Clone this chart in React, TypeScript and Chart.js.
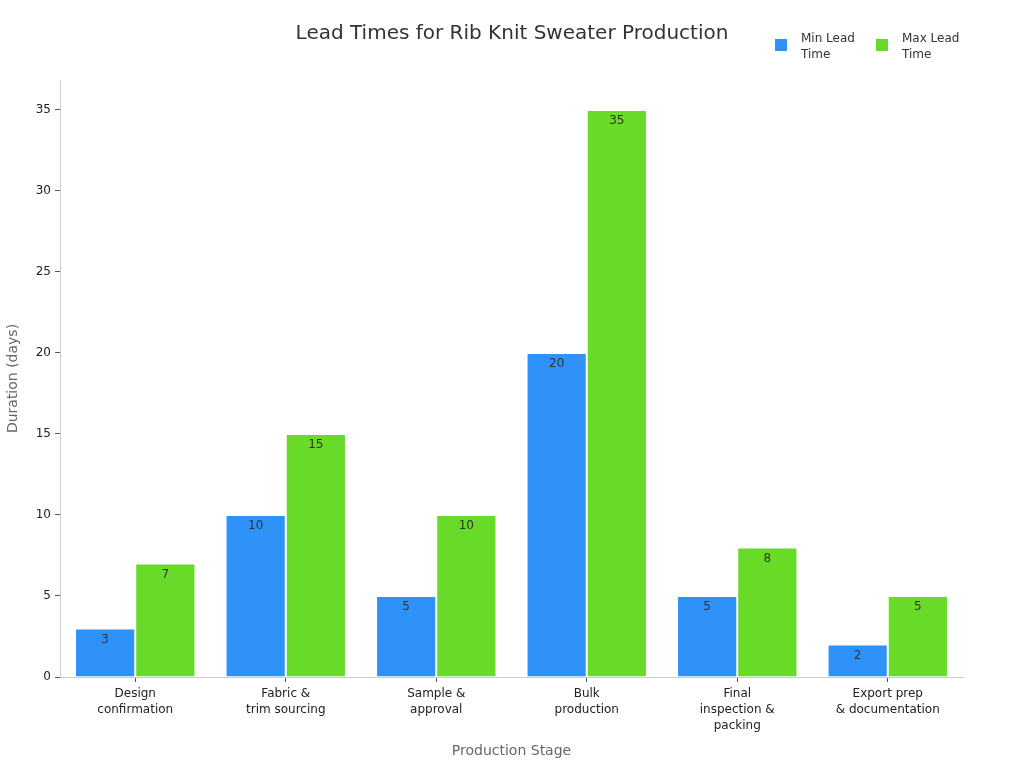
import React, { useEffect, useRef } from "react";
import { Chart, registerables } from "chart.js";

Chart.register(...registerables);

const TITLE = "Lead Times for Rib Knit Sweater Production";
const categories: string[][] = [
  ["Design", "confirmation"],
  ["Fabric &", "trim sourcing"],
  ["Sample &", "approval"],
  ["Bulk", "production"],
  ["Final", "inspection &", "packing"],
  ["Export prep", "& documentation"],
];
const minLead = [3, 10, 5, 20, 5, 2];
const maxLead = [7, 15, 10, 35, 8, 5];
const seriesNames: string[][] = [["Min Lead", "Time"], ["Max Lead", "Time"]];
const yTicks = [0, 5, 10, 15, 20, 25, 30, 35];
const Y_MAX = 36.85;

const BLUE = "#2f92f8";
const GREEN = "#67db28";
const FONT = "'DejaVu Sans', sans-serif";

const overlayPlugin = {
  id: "overlay",
  afterDatasetsDraw(chart: any) {
    const ctx = chart.ctx;
    ctx.save();
    ctx.font = `12px ${FONT}`;
    ctx.fillStyle = "#333333";
    ctx.textAlign = "center";
    ctx.textBaseline = "middle";
    chart.data.datasets.forEach((ds: any, di: number) => {
      const meta = chart.getDatasetMeta(di);
      meta.data.forEach((bar: any, i: number) => {
        ctx.fillText(String(ds.data[i]), bar.x, bar.y + 11);
      });
    });
    ctx.restore();
  },
  afterDraw(chart: any) {
    const ctx = chart.ctx;
    ctx.save();
    ctx.font = `20px ${FONT}`;
    ctx.fillStyle = "#333333";
    ctx.textAlign = "center";
    ctx.textBaseline = "middle";
    ctx.fillText(TITLE, 512, 33.5);
    const colors = [BLUE, GREEN];
    const xs = [775, 876];
    ctx.font = `12px ${FONT}`;
    ctx.textAlign = "left";
    seriesNames.forEach((lines, i) => {
      ctx.fillStyle = colors[i];
      ctx.fillRect(xs[i], 39, 12, 12);
      ctx.fillStyle = "#333333";
      lines.forEach((ln, j) => {
        ctx.fillText(ln, xs[i] + 26, 38.5 + j * 16);
      });
    });
    ctx.restore();
  },
};

export default function App() {
  const ref = useRef<HTMLCanvasElement | null>(null);
  useEffect(() => {
    if (!ref.current) return;
    Chart.defaults.font.family = FONT;
    const chart = new Chart(ref.current, {
      type: "bar",
      data: {
        labels: categories,
        datasets: [
          {
            label: seriesNames[0].join(" "),
            data: minLead,
            backgroundColor: BLUE,
            borderColor: "rgba(255,255,255,0.45)",
            borderWidth: 1,
            categoryPercentage: 0.8,
            barPercentage: 1.0,
          },
          {
            label: seriesNames[1].join(" "),
            data: maxLead,
            backgroundColor: GREEN,
            borderColor: "rgba(255,255,255,0.45)",
            borderWidth: 1,
            categoryPercentage: 0.8,
            barPercentage: 1.0,
          },
        ],
      },
      options: {
        animation: false,
        responsive: false,
        maintainAspectRatio: false,
        layout: { padding: { top: 80, right: 61, left: 0, bottom: 0 } },
        plugins: {
          legend: { display: false },
          title: { display: false },
          tooltip: { enabled: false },
        },
        scales: {
          x: {
            grid: {
              display: true,
              drawOnChartArea: false,
              drawTicks: true,
              tickLength: 5,
              offset: false,
              tickColor: "#555555",
            },
            border: { color: "#cccccc" },
            ticks: {
              color: "#222222",
              font: { size: 12, family: FONT, lineHeight: 1.33 },
              padding: 4,
              maxRotation: 0,
            },
            title: {
              display: true,
              text: "Production Stage",
              color: "#666666",
              font: { size: 14, family: FONT },
              padding: { top: 0, bottom: 8 },
            },
            afterFit(scale: any) {
              scale.height = 91;
            },
          },
          y: {
            min: 0,
            max: Y_MAX,
            grid: {
              display: true,
              drawOnChartArea: false,
              drawTicks: true,
              tickLength: 5,
              tickColor: "#555555",
            },
            border: { color: "#cccccc" },
            ticks: { color: "#222222", font: { size: 12, family: FONT }, padding: 4, stepSize: 5 },
            afterBuildTicks(scale: any) {
              scale.ticks = yTicks.map((v) => ({ value: v }));
            },
            title: {
              display: true,
              text: "Duration (days)",
              color: "#666666",
              font: { size: 14, family: FONT },
              padding: { top: 4.6, bottom: 0 },
            },
            afterFit(scale: any) {
              scale.width = 60;
            },
          },
        },
      },
      plugins: [overlayPlugin],
    } as any);
    return () => chart.destroy();
  }, []);
  return (
    <div style={{ position: "fixed", left: 0, top: 0, width: 1024, height: 768, background: "#fff" }}>
      <canvas ref={ref} width={1024} height={768} style={{ width: 1024, height: 768 }} />
    </div>
  );
}
